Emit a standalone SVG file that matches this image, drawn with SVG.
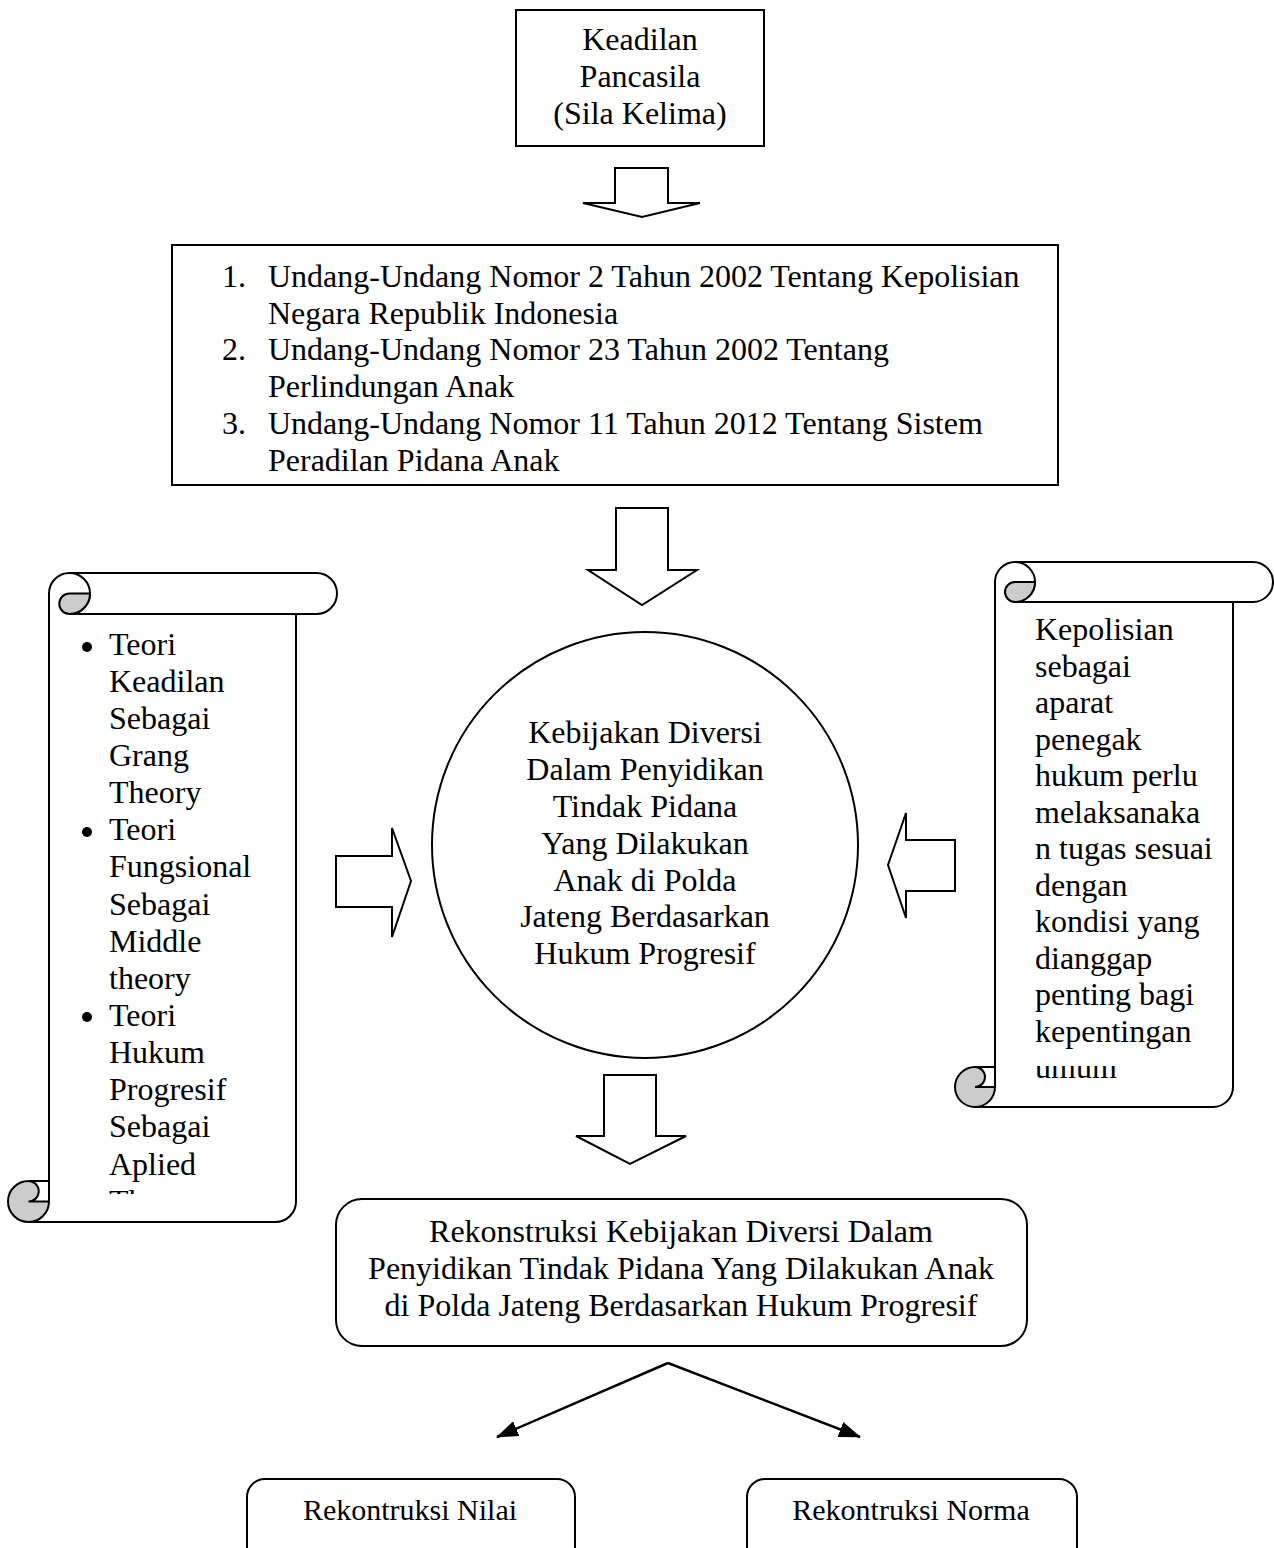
<svg xmlns="http://www.w3.org/2000/svg" width="1274" height="1548" viewBox="0 0 1274 1548">
<style>
.t{font-family:"Liberation Serif","Times New Roman",serif;font-size:32px;fill:#000}
.c{text-anchor:middle}
.s{fill:#fff;stroke:#000;stroke-width:2}
.w{fill:#fff;stroke:none}
.ln{fill:none;stroke:#000;stroke-width:2}
.g{fill:#cccccc;stroke:#000;stroke-width:2}
.sm{font-size:30px}
</style>
<defs>
<marker id="ah" markerUnits="userSpaceOnUse" markerWidth="22" markerHeight="16" refX="21" refY="8" orient="auto">
<path d="M0,0 L22,8 L0,16 Z" fill="#000"/>
</marker>
<clipPath id="clipL"><rect x="0" y="1185" width="300" height="9"/></clipPath>
<clipPath id="clipR"><rect x="990" y="1066" width="240" height="30"/></clipPath>
</defs>
<rect width="1274" height="1548" fill="#fff"/>

<g id="node-pancasila">
<rect class="s" x="516" y="10" width="248" height="136"/>
<text class="t c" x="640" y="50">Keadilan</text>
<text class="t c" x="640" y="87">Pancasila</text>
<text class="t c" x="640" y="124">(Sila Kelima)</text>
</g>

<g id="node-uu">
<rect class="s" x="172" y="245" width="886" height="240"/>
<text class="t" x="222" y="287">1.</text>
<text class="t" x="268" y="287">Undang-Undang Nomor 2 Tahun 2002 Tentang Kepolisian</text>
<text class="t" x="268" y="324">Negara Republik Indonesia</text>
<text class="t" x="222" y="360">2.</text>
<text class="t" x="268" y="360">Undang-Undang Nomor 23 Tahun 2002 Tentang</text>
<text class="t" x="268" y="397">Perlindungan Anak</text>
<text class="t" x="222" y="434">3.</text>
<text class="t" x="268" y="434">Undang-Undang Nomor 11 Tahun 2012 Tentang Sistem</text>
<text class="t" x="268" y="471">Peradilan Pidana Anak</text>
</g>

<g id="node-teori">
<path class="w" d="M49,1201.5 L49,614 L296,614 L296,1201.5 A20.5,20.5 0 0 1 275.5,1222 L28.5,1222 Z"/>
<path class="w" d="M69.5,573 L316.5,573 A20.5,20.5 0 0 1 316.5,614 L69.5,614 Z"/>
<path class="ln" d="M49,1201.5 L49,593.5 A20.5,20.5 0 0 1 69.5,573 L316.5,573 A20.5,20.5 0 0 1 316.5,614 L69.5,614"/>
<path class="ln" d="M69.5,573 A20.5,20.5 0 0 1 69.5,614"/>
<path class="g" d="M69.5,593.5 L90,593.5 A20.5,20.5 0 0 1 69.5,614 A10.25,10.25 0 0 1 69.5,593.5 Z"/>
<path class="ln" d="M296,614 L296,1201.5 A20.5,20.5 0 0 1 275.5,1222 L28.5,1222"/>
<path class="g" d="M28.5,1181 A10.25,10.25 0 0 1 28.5,1201.5 L49,1201.5 A20.5,20.5 0 1 1 28.5,1181 Z"/>
<path class="ln" d="M28.5,1181 L49,1181"/>
<circle cx="87" cy="647" r="5"/>
<circle cx="87" cy="832" r="5"/>
<circle cx="87" cy="1017" r="5"/>
<text class="t" x="109" y="655">Teori</text>
<text class="t" x="109" y="692">Keadilan</text>
<text class="t" x="109" y="729">Sebagai</text>
<text class="t" x="109" y="766">Grang</text>
<text class="t" x="109" y="803">Theory</text>
<text class="t" x="109" y="840">Teori</text>
<text class="t" x="109" y="877">Fungsional</text>
<text class="t" x="109" y="915">Sebagai</text>
<text class="t" x="109" y="952">Middle</text>
<text class="t" x="109" y="989">theory</text>
<text class="t" x="109" y="1026">Teori</text>
<text class="t" x="109" y="1063">Hukum</text>
<text class="t" x="109" y="1100">Progresif</text>
<text class="t" x="109" y="1137">Sebagai</text>
<text class="t" x="109" y="1175">Aplied</text>
<text class="t" x="109" y="1212" clip-path="url(#clipL)">Theory</text>
</g>

<g id="node-kepolisian">
<path class="w" d="M995,1087 L995,602 L1233,602 L1233,1087 A20,20 0 0 1 1213,1107 L975,1107 Z"/>
<path class="w" d="M1015,562 L1253,562 A20,20 0 0 1 1253,602 L1015,602 Z"/>
<path class="ln" d="M995,1087 L995,582 A20,20 0 0 1 1015,562 L1253,562 A20,20 0 0 1 1253,602 L1015,602"/>
<path class="ln" d="M1015,562 A20,20 0 0 1 1015,602"/>
<path class="g" d="M1015,582 L1035,582 A20,20 0 0 1 1015,602 A10,10 0 0 1 1015,582 Z"/>
<path class="ln" d="M1233,602 L1233,1087 A20,20 0 0 1 1213,1107 L975,1107"/>
<path class="g" d="M975,1067 A10,10 0 0 1 975,1087 L995,1087 A20,20 0 1 1 975,1067 Z"/>
<path class="ln" d="M975,1067 L995,1067"/>
<text class="t" x="1035" y="640">Kepolisian</text>
<text class="t" x="1035" y="677">sebagai</text>
<text class="t" x="1035" y="713">aparat</text>
<text class="t" x="1035" y="750">penegak</text>
<text class="t" x="1035" y="786">hukum perlu</text>
<text class="t" x="1035" y="823">melaksanaka</text>
<text class="t" x="1035" y="859">n tugas sesuai</text>
<text class="t" x="1035" y="896">dengan</text>
<text class="t" x="1035" y="932">kondisi yang</text>
<text class="t" x="1035" y="969">dianggap</text>
<text class="t" x="1035" y="1005">penting bagi</text>
<text class="t" x="1035" y="1042">kepentingan</text>
<text class="t" x="1035" y="1078" clip-path="url(#clipR)">umum</text>
</g>

<g id="node-kebijakan">
<circle class="s" cx="645" cy="845" r="213"/>
<text class="t c" x="645" y="743">Kebijakan Diversi</text>
<text class="t c" x="645" y="780">Dalam Penyidikan</text>
<text class="t c" x="645" y="817">Tindak Pidana</text>
<text class="t c" x="645" y="854">Yang Dilakukan</text>
<text class="t c" x="645" y="891">Anak di Polda</text>
<text class="t c" x="645" y="927">Jateng Berdasarkan</text>
<text class="t c" x="645" y="964">Hukum Progresif</text>
</g>

<g id="node-rekonstruksi">
<rect class="s" x="336" y="1199" width="691" height="147" rx="26"/>
<text class="t c" x="681" y="1242">Rekonstruksi Kebijakan Diversi Dalam</text>
<text class="t c" x="681" y="1279">Penyidikan Tindak Pidana Yang Dilakukan Anak</text>
<text class="t c" x="681" y="1316">di Polda Jateng Berdasarkan Hukum Progresif</text>
</g>

<g id="node-nilai">
<rect class="s" x="247" y="1479" width="328" height="110" rx="18"/>
<text class="t c sm" x="410" y="1520">Rekontruksi Nilai</text>
</g>

<g id="node-norma">
<rect class="s" x="747" y="1479" width="330" height="110" rx="18"/>
<text class="t c sm" x="911" y="1520">Rekontruksi Norma</text>
</g>

<g id="connectors">
<polygon class="s" points="615,168 668,168 668,203 700,203 642,217 583,203 615,203"/>
<polygon class="s" points="616,508 668,508 668,570 697,570 642,605 588,570 616,570"/>
<polygon class="s" points="604,1075 656,1075 656,1136 686,1136 630,1164 576,1136 604,1136"/>
<polygon class="s" points="336,856 392,856 392,828 411,881 392,937 392,907 336,907"/>
<polygon class="s" points="955,840 906,840 906,813 888,865 906,918 906,891 955,891"/>
<line x1="668" y1="1363" x2="497" y2="1437" stroke="#000" stroke-width="2.5" marker-end="url(#ah)"/>
<line x1="668" y1="1363" x2="860" y2="1437" stroke="#000" stroke-width="2.5" marker-end="url(#ah)"/>
</g>
</svg>
